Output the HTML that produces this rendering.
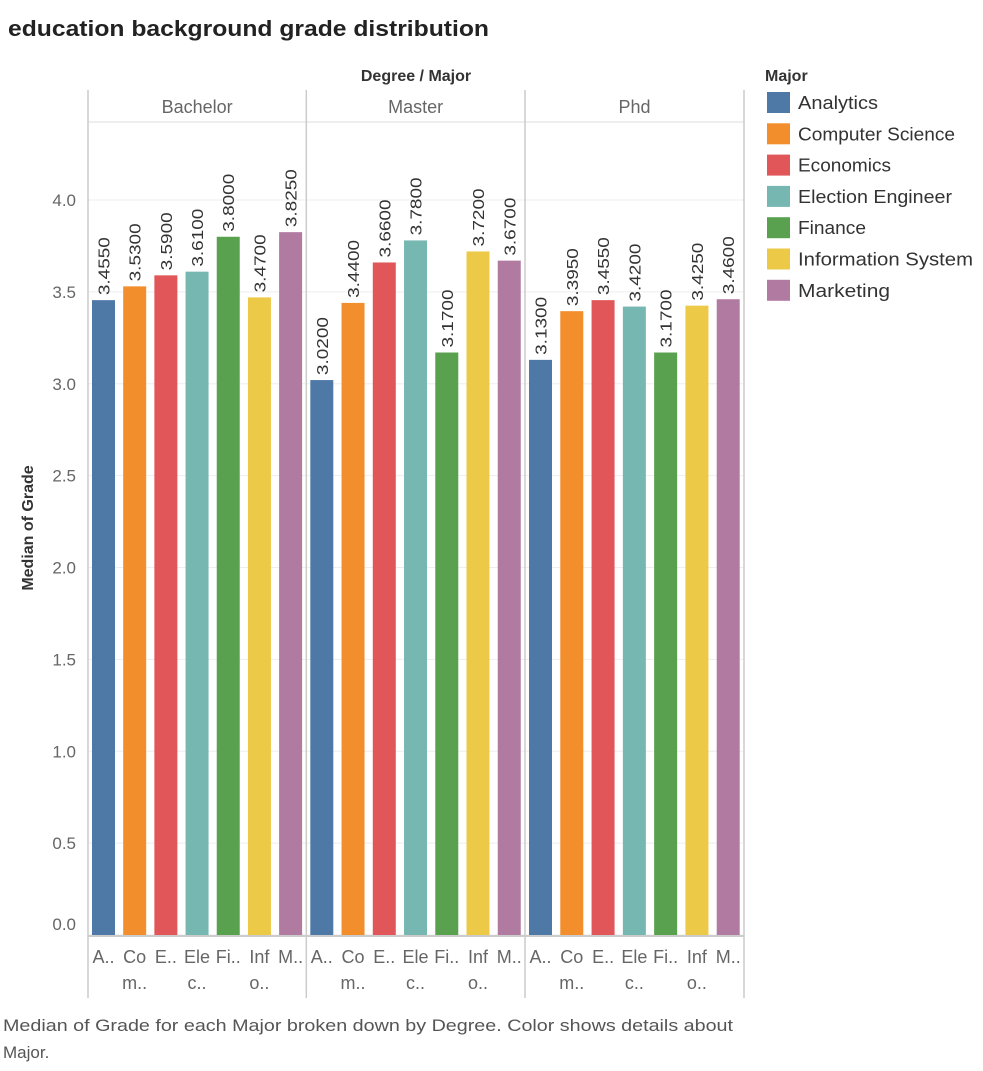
<!DOCTYPE html>
<html><head><meta charset="utf-8"><style>
body{margin:0;background:#fff;font-family:"Liberation Sans",sans-serif;}
</style></head><body>
<svg id="c" width="983" height="1066" xmlns="http://www.w3.org/2000/svg" font-family="Liberation Sans, sans-serif"></svg>
<script>
const degrees=["Bachelor","Master","Phd"];
const majors=["Analytics","Computer Science","Economics","Election Engineer","Finance","Information System","Marketing"];
const legendLens=[80,157,93,154,68,175,92];
const shortTop=["A..","Co","E..","Ele","Fi..","Inf","M.."];
const shortBot=["","m..","","c..","","o..",""];
const colors=["#4e79a7","#f28e2b","#e15759","#76b7b2","#59a14f","#edc948","#b07aa1"];
const values=[[3.455,3.53,3.59,3.61,3.80,3.47,3.825],[3.02,3.44,3.66,3.78,3.17,3.72,3.67],[3.13,3.395,3.455,3.42,3.17,3.425,3.46]];
const ticks=[0,0.5,1,1.5,2,2.5,3,3.5,4];
const svg=document.getElementById('c');
const NS="http://www.w3.org/2000/svg";
function mk(t,a,txt){const e=document.createElementNS(NS,t);for(const k in a)e.setAttribute(k,a[k]);if(txt!==undefined)e.textContent=txt;svg.appendChild(e);return e;}
const y0=935,sc=183.75;const y=v=>y0-v*sc;
const px=[88,306.3,525,744];
let e;
e=mk('text',{x:8,y:36,'font-size':22,'font-weight':'bold',fill:'#222',textLength:481,lengthAdjust:'spacingAndGlyphs'},'education background grade distribution');

e=mk('text',{x:416,y:81,'font-size':16,'font-weight':'bold','text-anchor':'middle',fill:'#333'},'Degree  /  Major');

ticks.forEach(t=>{
 e=mk('line',{x1:88,x2:744,y1:y(t),y2:y(t),stroke:'#eee','stroke-width':1});
 
 e=mk('text',{x:76,y:(t===0?y(t)-5:y(t)+6),'font-size':17,'text-anchor':'end',fill:'#666'},t.toFixed(1));
 
});
e=mk('text',{x:0,y:0,'font-size':16,'font-weight':'bold','text-anchor':'middle',fill:'#333',transform:'translate(33,528) rotate(-90)'},'Median of Grade');

mk('line',{x1:88,x2:744,y1:122,y2:122,stroke:'#ddd'});
mk('line',{x1:88,x2:744,y1:936,y2:936,stroke:'#ccc','stroke-width':2});
px.forEach(x=>{mk('line',{x1:x,x2:x,y1:90,y2:998,stroke:'#ccc','stroke-width':1.5});});
degrees.forEach((d,i)=>{
 const x0=px[i],w=px[i+1]-px[i],band=w/7;
 e=mk('text',{x:x0+w/2,y:113,'font-size':18,'text-anchor':'middle',fill:'#666'},d);
 
 values[i].forEach((v,j)=>{
  const bx=x0+band*j+4;
  e=mk('rect',{x:bx,y:y(v),width:23,height:y0-y(v),fill:colors[j]});
  
  e=mk('text',{x:0,y:0,'font-size':16,fill:'#333',textLength:58,lengthAdjust:'spacingAndGlyphs',transform:`translate(${bx+17.5},${y(v)-5}) rotate(-90)`},v.toFixed(4));
  
  e=mk('text',{x:bx+11.5,y:963,'font-size':18,'text-anchor':'middle',fill:'#666'},shortTop[j]);
  
  if(shortBot[j]){e=mk('text',{x:bx+11.5,y:989,'font-size':18,'text-anchor':'middle',fill:'#666'},shortBot[j]);
  }
 });
});
e=mk('text',{x:765,y:81,'font-size':16,'font-weight':'bold',fill:'#333'},'Major');

majors.forEach((m,j)=>{
 const ly=92+j*31.3;
 e=mk('rect',{x:767,y:ly,width:23,height:21,fill:colors[j]});
 
 e=mk('text',{x:798,y:ly+17,'font-size':18,fill:'#333',textLength:legendLens[j],lengthAdjust:'spacingAndGlyphs'},m);
 
});
e=mk('text',{x:3,y:1031,'font-size':17,fill:'#555',textLength:730,lengthAdjust:'spacingAndGlyphs'},'Median of Grade for each Major broken down by Degree.  Color shows details about');

e=mk('text',{x:3,y:1058,'font-size':17,fill:'#555'},'Major.');

</script>
</body></html>
